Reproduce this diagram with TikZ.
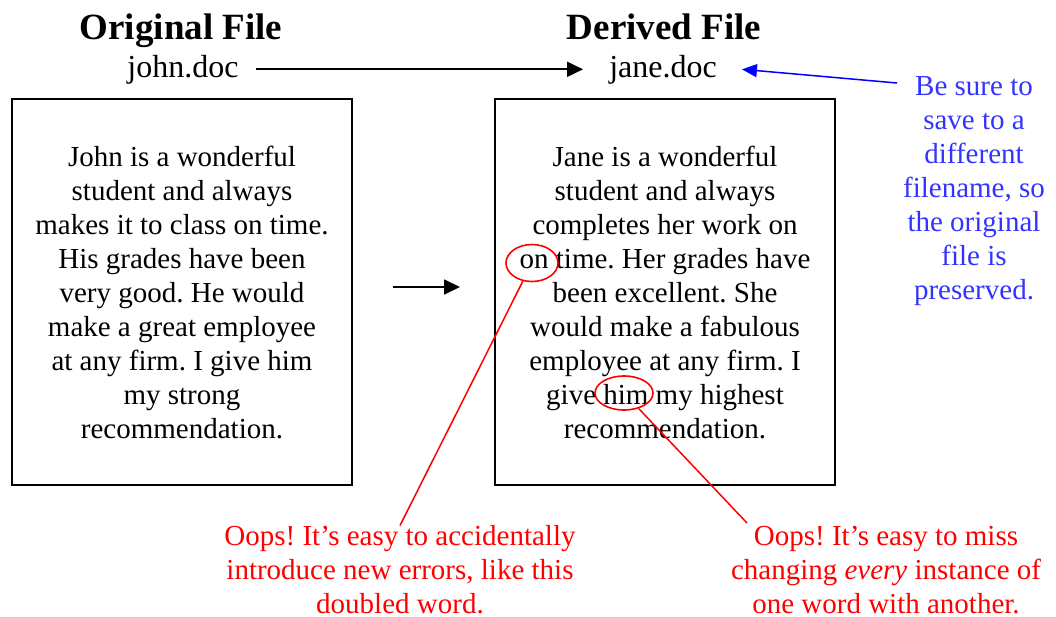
\documentclass[tikz,border=0pt]{standalone}
\usepackage{fontspec}
\setmainfont{Liberation Serif}
\usetikzlibrary{arrows.meta, shapes.geometric}
\definecolor{noteblue}{RGB}{51,51,255}
\frenchspacing
\tikzset{
    body/.style={font=\fontsize{29}{34}\selectfont, align=center, inner sep=0pt},
    title/.style={font=\fontsize{37}{40}\selectfont\bfseries, inner sep=0pt, anchor=base},
    fname/.style={font=\fontsize{32}{36}\selectfont, inner sep=0pt, anchor=base},
    letter/.style={draw, line width=2pt, minimum width=340pt, minimum height=386pt, body},
    ringmark/.style={ellipse, draw=red, line width=1.6pt, inner sep=0pt},
    fwd/.style={-{Triangle[length=16pt,width=15pt]}, line width=1.8pt},
    redline/.style={draw=red, line width=1.5pt},
}
\begin{document}
\begin{tikzpicture}[x=1pt,y=-1pt]
\useasboundingbox (0,0) rectangle (1056,616);
\node[title] (orig)  at (181,39) {Original File};
\node[title] (deriv) at (664,39) {Derived File};
\node[fname] (john) at (183,77) {john.doc};
\node[fname] (jane) at (663,77) {jane.doc};
\node[letter] (jbox) at (182,292) {John is a wonderful\\ student and always\\ makes it to class on time.\\ His grades have been\\ very good. He would\\ make a great employee\\ at any firm. I give him\\ my strong\\ recommendation.};
\node[letter] (dbox) at (665,292) {Jane is a wonderful\\ student and always\\ completes her work on\\ on time. Her grades have\\ been excellent. She\\ would make a fabulous\\ employee at any firm. I\\ give him my highest\\ recommendation.};
\draw[fwd] ([xshift=17pt]john.east) -- ([xshift=-26pt]jane.west);
\draw[fwd] ([xshift=40pt,yshift=5pt]jbox.east) -- ([xshift=-34pt,yshift=5pt]dbox.west);
% note about the file name
\node[body, text=noteblue] (note) at (974,191) {Be sure to\\ save to a\\ different\\ filename, so\\ the original\\ file is\\ preserved.};
\coordinate (notetail) at (897,83);
\draw[-{Triangle[length=15pt,width=13pt]}, blue, line width=1.5pt] (notetail) -- ([xshift=25pt]jane.east);
% marked words
\node[ringmark, minimum width=52pt, minimum height=37pt] (onmark)  at (532,263) {};
\node[ringmark, minimum width=58pt, minimum height=34pt] (himmark) at (624,393) {};
\node[body, text=red] (oops1) at (400,570) {Oops! It's easy to accidentally\\ introduce new errors, like this\\ doubled word.};
\node[body, text=red] (oops2) at (886,570) {Oops! It's easy to miss\\ changing \emph{every} instance of\\ one word with another.};
\coordinate (oopstip) at (747,523);
\draw[redline] (onmark) -- (oops1.north);
\draw[redline] (himmark) -- (oopstip);
\end{tikzpicture}
\end{document}
